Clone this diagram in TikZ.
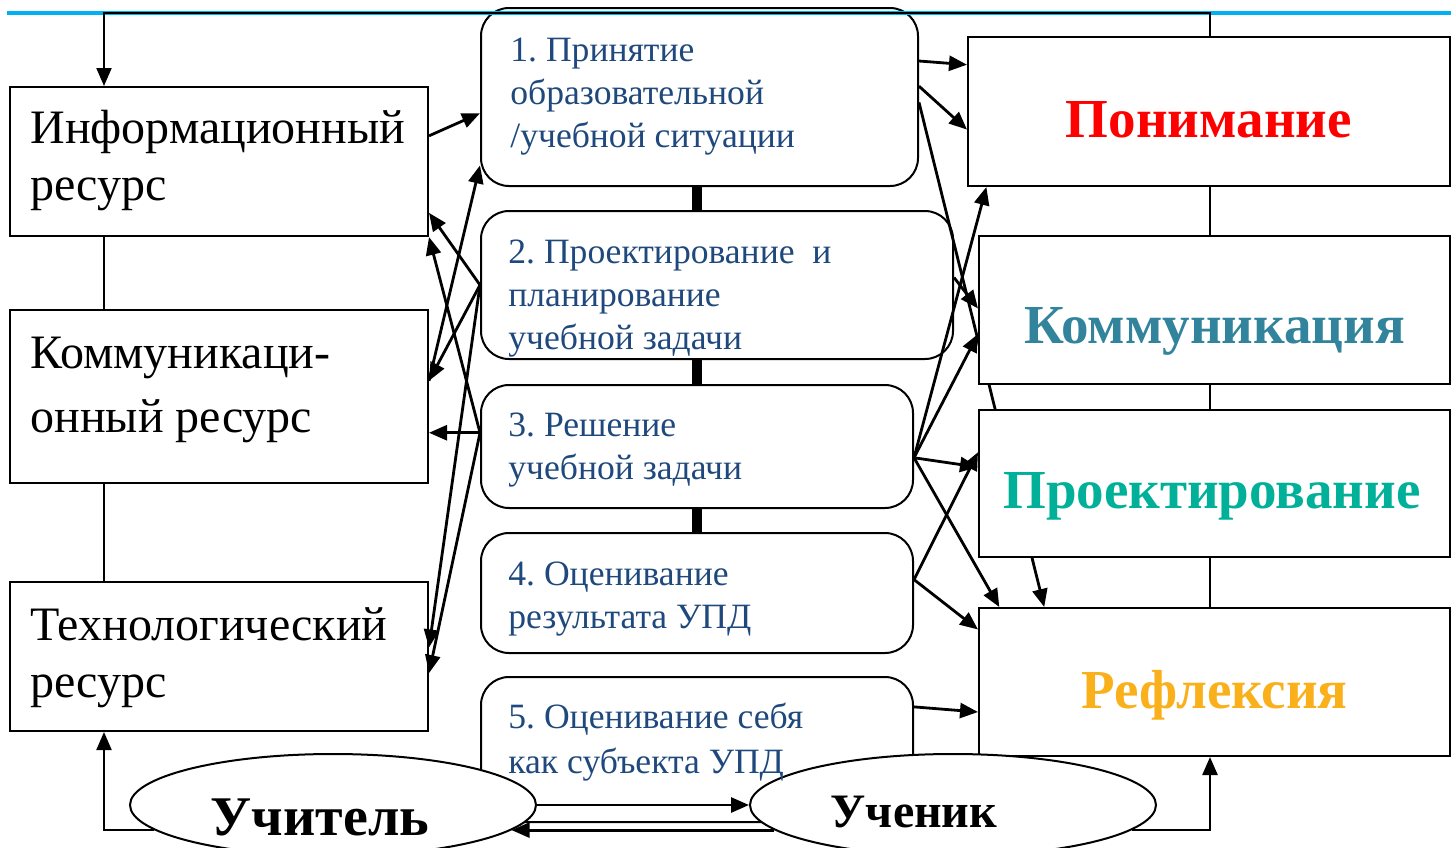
\documentclass[tikz,border=0pt]{standalone}
\usepackage{fontspec}
\setmainfont{Liberation Serif}
\usetikzlibrary{arrows.meta,calc,shapes.geometric}
\definecolor{stepblue}{RGB}{31,73,125}
\definecolor{komcol}{RGB}{49,132,155}
\definecolor{projcol}{RGB}{0,176,152}
\definecolor{reflcol}{RGB}{250,176,27}
\definecolor{topblue}{RGB}{0,176,240}
\frenchspacing
\begin{document}
\begin{tikzpicture}[x=0.5pt,y=-0.5pt,
  sqbox/.style={draw=black, line width=1pt, fill=white, rectangle, inner sep=0pt},
  stepbox/.style={draw=black, line width=1pt, fill=white, rounded corners=14pt, rectangle, inner sep=0pt},
  restext/.style={inner sep=0pt, anchor=north west, align=left, font=\fontsize{24pt}{28.5pt}\selectfont},
  steptext/.style={inner sep=0pt, anchor=north west, align=left, text=stepblue, font=\fontsize{17.8pt}{21.5pt}\selectfont},
  ttl/.style={inner sep=0pt, anchor=base, font=\bfseries\fontsize{27.5pt}{30pt}\selectfont},
  oval/.style={draw=black, line width=1pt, fill=white, ellipse, inner sep=0pt, minimum width=203pt, minimum height=51pt},
  tip/.style={-{Triangle[length=9pt,width=7.5pt]}},
  arr/.style={line width=1.4pt, tip},
  lnk/.style={line width=1pt},
  steplink/.style={line width=5pt}
]
\useasboundingbox (0,0) rectangle (1451,847);
\fill[white] (0,0) rectangle (1451,847);

% named helper coordinates
\coordinate (tl) at (104,13);
\coordinate (tr) at (1210,13);

% boxes
\node[sqbox, minimum width=209pt, minimum height=74.5pt] (info) at (219,161.5) {};
\node[sqbox, minimum width=209pt, minimum height=86.5pt] (komm) at (219,396.5) {};
\node[sqbox, minimum width=209pt, minimum height=74.5pt] (tech) at (219,656.5) {};

\node[stepbox, minimum width=218.5pt, minimum height=89pt] (s1) at (699.5,97) {};
\node[stepbox, minimum width=236pt, minimum height=74pt] (s2) at (717,285) {};
\node[stepbox, minimum width=216pt, minimum height=61.5pt] (s3) at (697,446.5) {};
\node[stepbox, minimum width=216pt, minimum height=60pt] (s4) at (697,593) {};
\node[stepbox, minimum width=216pt, minimum height=72.5pt] (s5) at (697,749.5) {};

\node[sqbox, minimum width=241pt, minimum height=74.5pt] (pon) at (1209,111.5) {};
\node[sqbox, minimum width=235.5pt, minimum height=74pt] (refl) at (1214.5,682) {};

% long connector hidden behind the middle right boxes
\draw[arr] ($(s1.north east)!0.53!(s1.south east)$) -- ($(refl.north west)!0.14!(refl.north east)$);

\node[sqbox, minimum width=235.5pt, minimum height=74pt] (kom2) at (1214.5,310) {};
\node[sqbox, minimum width=235.5pt, minimum height=73.5pt] (proj) at (1214.5,483.5) {};

% ellipses
\node[oval] (uch) at (333,805) {};
\node[oval] (uchen) at (953,805) {};

% texts
\node[restext] (infoT) at (30,103) {\strut Информационный\\\strut ресурс};
\node[restext, font=\fontsize{24pt}{32pt}\selectfont] (kommT) at (30,323) {\strut Коммуникаци-\\\strut онный ресурс};
\node[restext] (techT) at (30,600) {\strut Технологический\\\strut ресурс};

\node[steptext] (s1T) at (510,31) {\strut 1. Принятие\\\strut образовательной\\\strut /учебной ситуации};
\node[steptext] (s2T) at (508,233) {\strut 2. Проектирование~ и\\\strut планирование\\\strut учебной задачи};
\node[steptext] (s3T) at (508,406) {\strut 3. Решение\\\strut учебной задачи};
\node[steptext] (s4T) at (508,555) {\strut 4. Оценивание\\\strut результата УПД};
\node[steptext, font=\fontsize{17.8pt}{22.5pt}\selectfont] (s5T) at (508,697) {\strut 5. Оценивание себя\\\strut как субъекта УПД};

\node[ttl, text=red] (ponT) at (1209,137) {Понимание};
\node[ttl, text=komcol] (kom2T) at (1214.5,343) {Коммуникация};
\node[ttl, text=projcol] (projT) at (1212,508) {Проектирование};
\node[ttl, text=reflcol] (reflT) at (1214.5,708) {Рефлексия};

\node[ttl, font=\bfseries\fontsize{28pt}{30pt}\selectfont] (uchT) at (320,835) {Учитель};
\node[ttl, font=\bfseries\fontsize{24pt}{26pt}\selectfont] (uchenT) at (914,827) {Ученик};

% step links
\draw[steplink] (s1.south -| s3.north) -- (s2.north -| s3.north);
\draw[steplink] (s2.south -| s3.north) -- (s3.north);
\draw[steplink] (s3.south) -- (s4.north);

% top lines
\draw[topblue, line width=1.8pt] (7,13) -- (1451,13);
\draw[line width=1pt, tip] (pon.north -| tr) -- (tr) -- (tl) -- (info.north -| tl);

% vertical links
\draw[lnk] (info.south -| tl) -- (komm.north -| tl);
\draw[lnk] (komm.south -| tl) -- (tech.north -| tl);
\draw[lnk] (pon.south -| tr) -- (kom2.north -| tr);
\draw[lnk] (kom2.south -| tr) -- (proj.north -| tr);
\draw[lnk] (proj.south -| tr) -- (refl.north -| tr);

% bottom arrows
\draw[line width=1pt, tip] (uch.188) -| (tech.south -| tl);
\draw[line width=1.2pt, tip] (uchen.-8) -| (refl.south -| tr);
\draw[arr] (uch.east) -- (uchen.west);
\draw[arr] (uchen.188) -- (uch.-8);

% left connectors
\coordinate (kommP) at ($(komm.north east)!0.41!(komm.south east)$);
\coordinate (s3w) at ($(s3.north west)!0.39!(s3.south west)$);
\draw[arr] ($(info.north east)!0.33!(info.south east)$) -- ($(s1.north west)!0.59!(s1.south west)$);
\draw[arr] (kommP) -- ($(s1.north west)!0.88!(s1.south west)$);
\draw[arr] (s2.west) -- ($(info.north east)!0.84!(info.south east)$);
\draw[arr] (s2.west) -- (kommP);
\draw[arr] (s2.west) -- ($(tech.north east)!0.44!(tech.south east)$);
\draw[arr] (s3w) -- (info.south east);
\draw[arr] (s3w) -- (komm.east |- s3w);
\draw[arr] (s3w) -- ($(tech.north east)!0.61!(tech.south east)$);

% right connectors
\coordinate (s3e) at ($(s3.north east)!0.59!(s3.south east)$);
\coordinate (s4e) at ($(s4.north east)!0.39!(s4.south east)$);
\draw[arr] ($(s1.north east)!0.30!(s1.south east)$) -- ($(pon.north west)!0.19!(pon.south west)$);
\draw[arr] ($(s1.north east)!0.44!(s1.south east)$) -- ($(pon.north west)!0.62!(pon.south west)$);
\draw[arr] ($(s2.north east)!0.45!(s2.south east)$) -- ($(kom2.north west)!0.49!(kom2.south west)$);
\draw[arr] (s3e) -- ($(pon.south west)!0.04!(pon.south east)$);
\draw[arr] (s3e) -- ($(kom2.north west)!0.66!(kom2.south west)$);
\draw[arr] (s3e) -- ($(proj.north west)!0.39!(proj.south west)$);
\draw[arr] (s3e) -- ($(refl.north west)!0.045!(refl.north east)$);
\draw[arr] (s4e) -- ($(proj.north west)!0.29!(proj.south west)$);
\draw[arr] (s4e) -- ($(refl.north west)!0.15!(refl.south west)$);
\draw[arr] ($(s5.north east)!0.21!(s5.south east)$) -- ($(refl.north west)!0.70!(refl.south west)$);
\end{tikzpicture}
\end{document}
